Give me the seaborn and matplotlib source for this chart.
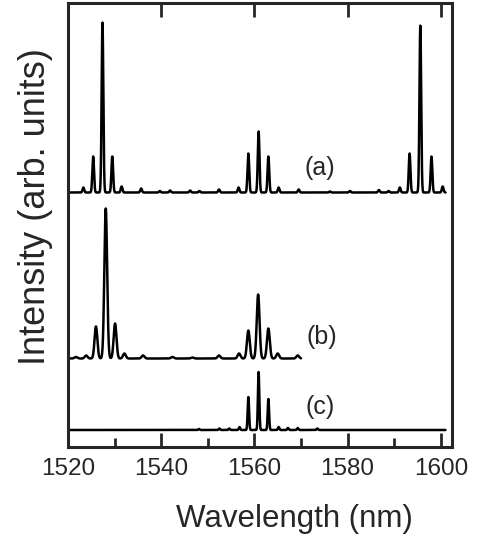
import numpy as np
import pandas as pd
import matplotlib
matplotlib.use("Agg")
import matplotlib.pyplot as plt
import seaborn as sns

# ---- data (peak centres in nm, heights in arb. units) ----
peaks_a_nm = [1523.3, 1525.4, 1527.4, 1529.5, 1531.5, 1535.7, 1539.7, 1541.9, 1546.2,
              1548.2, 1552.4, 1556.6, 1558.7, 1560.9, 1563.0, 1565.2, 1569.5, 1576.2,
              1580.5, 1586.7, 1588.8, 1591.2, 1593.3, 1595.6, 1598.0, 1600.4]
peaks_a_h = [5, 36, 170, 36, 6, 4, 1.5, 2, 2,
             1.5, 3, 5, 39, 61, 36, 5, 3, 1,
             1.5, 2.5, 1.5, 5, 39, 167, 36, 6]

peaks_b_nm = [1521.7, 1523.9, 1526.0, 1528.1, 1530.1, 1532.1, 1536.1, 1542.4, 1546.7,
              1552.4, 1556.7, 1558.7, 1560.8, 1563.0, 1565.0, 1569.3]
peaks_b_h = [1.5, 3, 32, 150, 35, 5, 3, 1.5, 1,
             3, 5, 28, 64, 30, 5, 3]

peaks_c_nm = [1548.1, 1552.5, 1554.6, 1556.8, 1558.7, 1560.9, 1563.0, 1565.2, 1567.2,
              1569.3, 1573.5]
peaks_c_h = [1, 1.5, 1.5, 3, 33, 58, 31, 3, 2, 2, 1.5]

labels = ["(a)", "(b)", "(c)"]
ranges_nm = [(1520.0, 1601.0), (1520.0, 1570.0), (1520.0, 1601.0)]
offsets = [254.5, 88.5, 17.0]
widths_nm = [0.18, 0.30, 0.15]
label_pos = [(1574.0, 279), (1574.5, 110), (1574.0, 40)]
xticks_major = [1520, 1540, 1560, 1580, 1600]


def spectrum(centres, heights, lo, hi, sigma):
    wl = np.linspace(lo, hi, 4000)
    inten = np.zeros_like(wl)
    for c, h in zip(centres, heights):
        inten += h * np.exp(-0.5 * ((wl - c) / sigma) ** 2)
    return wl, inten


sns.set_style("ticks")
plt.rcParams["font.family"] = ["Liberation Sans", "DejaVu Sans"]

fig = plt.figure(figsize=(4.83, 5.52), dpi=100)
ax = fig.add_axes([68 / 483, 1 - 447 / 552, (452 - 68) / 483, 444 / 552])

series = [(peaks_a_nm, peaks_a_h), (peaks_b_nm, peaks_b_h), (peaks_c_nm, peaks_c_h)]
frames = []
for (cen, hts), lab, (lo, hi), off, sg in zip(series, labels, ranges_nm, offsets, widths_nm):
    wl, inten = spectrum(cen, hts, lo, hi, sg)
    frames.append(pd.DataFrame({"wl": wl, "I": inten + off, "s": lab}))
df = pd.concat(frames, ignore_index=True)

for lab in labels:
    sub = df[df["s"] == lab]
    sns.lineplot(data=sub, x="wl", y="I", color="black", lw=1.8, ax=ax,
                 estimator=None, sort=False)

for lab, (lx, ly) in zip(labels, label_pos):
    ax.text(lx, ly, lab, fontsize=18, ha="center", va="center")

ax.set_xlim(1520, 1602.4)
ax.set_ylim(0, 444)
ax.set_yticks([])
ax.set_xticks(xticks_major)
ax.set_xticks([1530, 1550, 1570, 1590], minor=True)
ax.tick_params(axis="x", which="major", direction="in", length=10, width=2,
               top=True, bottom=True, labelsize=17.5, pad=8)
ax.tick_params(axis="x", which="minor", direction="in", length=6.5, width=2,
               top=False, bottom=True)
for sp in ax.spines.values():
    sp.set_linewidth(2.2)
    sp.set_visible(True)

ax.set_xlabel("Wavelength (nm)", fontsize=22.5)
ax.set_ylabel("Intensity (arb. units)", fontsize=26)
ax.xaxis.set_label_coords((294 - 68) / 384, -(504 - 447) / 444)
ax.yaxis.set_label_coords(-(68 - 53) / 384, (447 - 207) / 444)

fig.savefig("out.png", dpi=100)
